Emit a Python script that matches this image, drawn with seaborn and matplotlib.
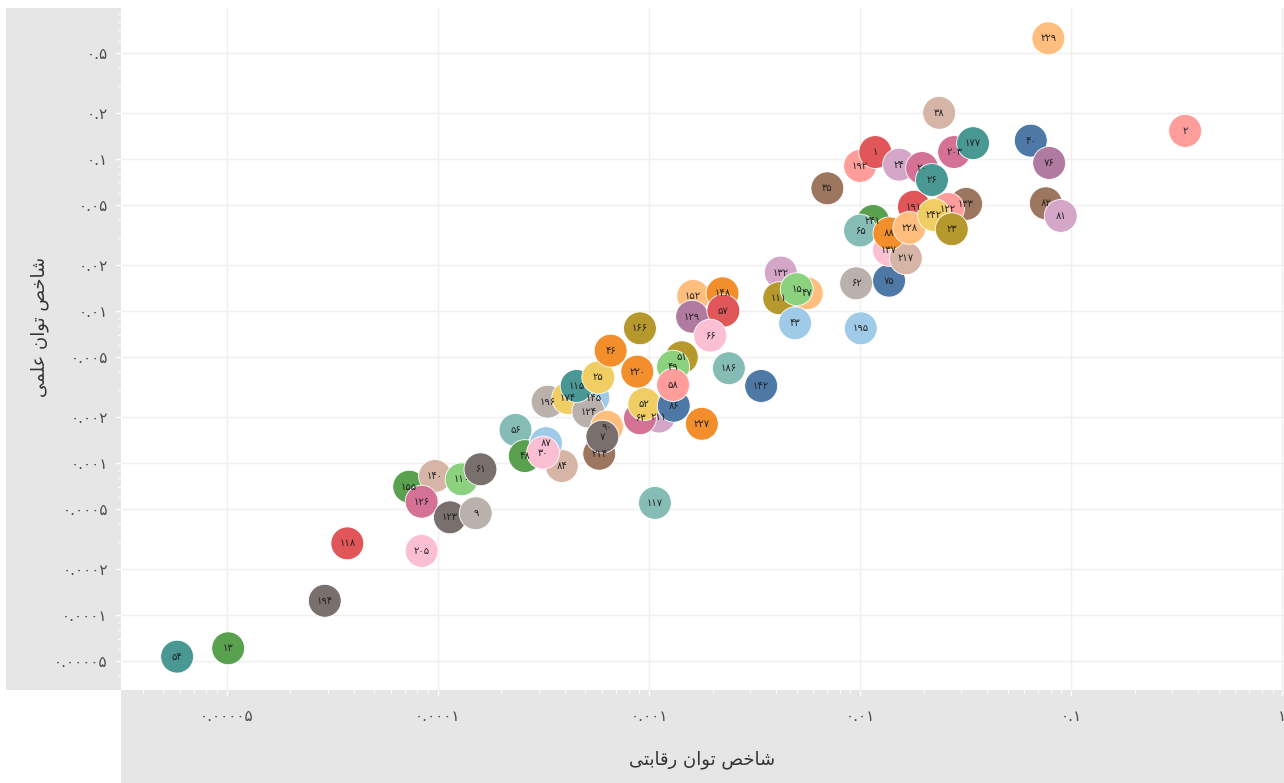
import pandas as pd
import seaborn as sns
import matplotlib.pyplot as plt
from matplotlib.patches import Rectangle
from matplotlib.ticker import FixedLocator, LogLocator, NullFormatter

# point ids (drawing order matters where circles overlap)
ids = [54, 13, 194, 118, 205, 155, 140, 126, 110, 61, 123, 9, 56, 48, 84, 87, 30,
       196, 174, 145, 124, 115, 25, 90, 214, 7, 46, 166, 220, 211, 63, 52, 86, 51, 49, 58,
       227, 117, 152, 129, 148, 57, 66, 186, 142, 132, 111, 47, 15, 43, 62, 75, 195,
       137, 217, 241, 65, 88, 191, 228, 133, 122, 242, 23, 35, 192, 1, 24, 20, 26,
       203, 177, 38, 40, 76, 82, 81, 229, 2]

x_vals = [5.81e-6, 1.014e-5, 2.91e-5, 3.72e-5, 8.37e-5, 7.31e-5, 9.68e-5, 8.37e-5, 1.295e-4,
          1.59e-4, 1.14e-4, 1.51e-4, 2.33e-4, 2.58e-4, 3.86e-4, 3.25e-4, 3.15e-4,
          3.31e-4, 4.14e-4, 5.45e-4, 5.16e-4, 4.54e-4, 5.75e-4, 6.32e-4, 5.81e-4, 6.01e-4,
          6.58e-4, 9.06e-4, 8.80e-4, 1.115e-3, 9.06e-4, 9.50e-4, 1.31e-3, 1.43e-3, 1.30e-3, 1.30e-3,
          1.78e-3, 1.067e-3, 1.62e-3, 1.60e-3, 2.23e-3, 2.25e-3, 1.95e-3, 2.39e-3, 3.40e-3,
          4.21e-3, 4.14e-3, 5.59e-3, 5.01e-3, 4.92e-3, 9.58e-3, 1.372e-2, 1.008e-2,
          1.372e-2, 1.647e-2, 1.153e-2, 1.0e-2, 1.377e-2, 1.80e-2, 1.713e-2, 3.18e-2, 2.61e-2,
          2.24e-2, 2.72e-2, 7.00e-3, 1.0e-2, 1.18e-2, 1.53e-2, 1.967e-2, 2.19e-2,
          2.79e-2, 3.43e-2, 2.37e-2, 6.44e-2, 7.87e-2, 7.59e-2, 8.93e-2, 7.80e-2, 0.347]

y_vals = [5.32e-5, 6.04e-5, 1.24e-4, 2.96e-4, 2.64e-4, 6.98e-4, 8.21e-4, 5.56e-4, 7.81e-4,
          9.09e-4, 4.39e-4, 4.67e-4, 1.65e-3, 1.11e-3, 9.55e-4, 1.35e-3, 1.17e-3,
          2.53e-3, 2.67e-3, 2.69e-3, 2.18e-3, 3.21e-3, 3.66e-3, 1.73e-3, 1.15e-3, 1.49e-3,
          5.48e-3, 7.69e-3, 3.99e-3, 2.02e-3, 1.97e-3, 2.44e-3, 2.38e-3, 4.96e-3, 4.30e-3, 3.26e-3,
          1.81e-3, 5.46e-4, 1.256e-2, 9.17e-3, 1.307e-2, 1.004e-2, 6.88e-3, 4.20e-3, 3.21e-3,
          1.79e-2, 1.213e-2, 1.307e-2, 1.39e-2, 8.30e-3, 1.52e-2, 1.582e-2, 7.69e-3,
          2.52e-2, 2.22e-2, 3.91e-2, 3.38e-2, 3.24e-2, 4.85e-2, 3.52e-2, 5.06e-2, 4.69e-2,
          4.28e-2, 3.45e-2, 6.41e-2, 9.0e-2, 0.111, 9.17e-2, 8.72e-2, 7.27e-2,
          0.111, 0.127, 0.201, 0.132, 9.41e-2, 5.11e-2, 4.22e-2, 0.622, 0.153]

group_colors = {
    "#4E79A7": [40, 75, 142, 86],
    "#A0CBE8": [43, 195, 145, 87],
    "#F28E2B": [46, 220, 88, 148, 227],
    "#FFBE7D": [229, 228, 47, 152, 90],
    "#59A14F": [13, 48, 155, 241],
    "#8CD17D": [15, 49, 110],
    "#B6992D": [166, 51, 111, 23],
    "#F1CE63": [25, 52, 242, 174],
    "#499894": [54, 115, 177, 26],
    "#86BCB6": [56, 65, 117, 186],
    "#E15759": [1, 118, 57, 191],
    "#FF9D9A": [2, 192, 58, 122],
    "#79706E": [194, 123, 61, 7],
    "#BAB0AC": [9, 196, 124, 62],
    "#D37295": [126, 63, 203, 20],
    "#FABFD2": [205, 30, 66, 137],
    "#B07AA1": [76, 129],
    "#D4A6C8": [81, 24, 132, 211],
    "#9D7660": [35, 82, 214, 133],
    "#D7B5A6": [38, 84, 140, 217],
}

x_ticks = [1e-5, 1e-4, 1e-3, 1e-2, 1e-1, 1]
x_tick_labels = ["0.00005", "0.0001", "0.001", "0.01", "0.1", "1"]
y_ticks = [5e-5, 1e-4, 2e-4, 5e-4, 1e-3, 2e-3, 5e-3, 1e-2, 2e-2, 5e-2, 0.1, 0.2, 0.5]
y_tick_labels = ["0.00005", "0.0001", "0.0002", "0.0005", "0.001", "0.002", "0.005",
                 "0.01", "0.02", "0.05", "0.1", "0.2", "0.5"]

x_title = "شاخص توان رقابتی"
y_title = "شاخص توان علمی"

# Arabic presentation forms (iso, fin, ini, med) - matplotlib does no shaping
FORMS = {
    'ا': (0xFE8D, 0xFE8E), 'و': (0xFEED, 0xFEEE), 'ر': (0xFEAD, 0xFEAE),
    'ش': (0xFEB5, 0xFEB6, 0xFEB7, 0xFEB8), 'خ': (0xFEA5, 0xFEA6, 0xFEA7, 0xFEA8),
    'ص': (0xFEB9, 0xFEBA, 0xFEBB, 0xFEBC), 'ت': (0xFE95, 0xFE96, 0xFE97, 0xFE98),
    'ن': (0xFEE5, 0xFEE6, 0xFEE7, 0xFEE8), 'ق': (0xFED5, 0xFED6, 0xFED7, 0xFED8),
    'ب': (0xFE8F, 0xFE90, 0xFE91, 0xFE92), 'ع': (0xFEC9, 0xFECA, 0xFECB, 0xFECC),
    'ل': (0xFEDD, 0xFEDE, 0xFEDF, 0xFEE0), 'م': (0xFEE1, 0xFEE2, 0xFEE3, 0xFEE4),
    'ی': (0xFEEF, 0xFEF0, 0xFEF3, 0xFEF4),
}


def fa(text):
    out = []
    for i, ch in enumerate(text):
        if ch not in FORMS:
            out.append(ch)
            continue
        forms = FORMS[ch]
        prev = text[i - 1] if i > 0 else ''
        nxt = text[i + 1] if i + 1 < len(text) else ''
        jp = prev in FORMS and len(FORMS[prev]) == 4
        jn = nxt in FORMS and len(forms) == 4
        out.append(chr(forms[(1 if jp else 0) + (2 if jn else 0)]))
    return ''.join(reversed(out))


DIGITS = str.maketrans('0123456789', '۰۱۲۳۴۵۶۷۸۹')


def fa_num(s):
    return str(s).translate(DIGITS)


color_of = {i: c for c, members in group_colors.items() for i in members}
df = pd.DataFrame({"id": ids, "x": x_vals, "y": y_vals})
df["label"] = df["id"].map(fa_num)
palette = {fa_num(i): color_of[i] for i in ids}

sns.set_theme(style="white")
plt.rcParams['font.family'] = ['DejaVu Sans']

W, H = 1284, 783
fig = plt.figure(figsize=(W / 100, H / 100), dpi=100)
band = "#e6e6e6"
# grey bands behind the axis areas (zorder below the axes so tick labels stay visible)
fig.patches.append(Rectangle((6 / W, 93 / H), 115 / W, 682 / H, transform=fig.transFigure,
                             facecolor=band, edgecolor="none", zorder=-5))
fig.patches.append(Rectangle((121 / W, 0), 1163 / W, 93 / H, transform=fig.transFigure,
                             facecolor=band, edgecolor="none", zorder=-5))
ax = fig.add_axes([121 / W, 93 / H, 1163 / W, 682 / H])

sns.scatterplot(data=df, x="x", y="y", hue="label", palette=palette, s=560,
                edgecolor="white", linewidth=0.6, legend=False, ax=ax, zorder=3)
for _, r in df.iterrows():
    ax.text(r["x"], r["y"], r["label"], ha="center", va="center", fontsize=7.2,
            color="#222222", zorder=4)

ax.set_xscale("log")
ax.set_yscale("log")
ax.set_xlim(3.15e-6, 1.02)
ax.set_ylim(3.21e-5, 0.984)

ax.xaxis.set_major_locator(FixedLocator(x_ticks))
ax.set_xticklabels([fa_num(t) for t in x_tick_labels])
ax.xaxis.set_minor_locator(LogLocator(base=10, subs=range(2, 10)))
ax.xaxis.set_minor_formatter(NullFormatter())
ax.yaxis.set_major_locator(FixedLocator(y_ticks))
ax.set_yticklabels([fa_num(t) for t in y_tick_labels])
ax.yaxis.set_minor_locator(LogLocator(base=10, subs=(3, 4, 6, 7, 8, 9)))
ax.yaxis.set_minor_formatter(NullFormatter())

ax.tick_params(which="major", length=4, color="white", width=1, labelsize=11,
               labelcolor="#4d4d4d", bottom=True, left=True)
ax.tick_params(which="minor", length=2.5, color="white", width=0.8, bottom=True, left=True)
ax.tick_params(axis="y", pad=5.5)
ax.tick_params(axis="x", pad=10)
ax.set_xlabel("")
ax.set_ylabel("")
ax.grid(True, which="major", color="#efefef", linewidth=1)
ax.set_axisbelow(True)
for s in ax.spines.values():
    s.set_visible(False)

fig.text(702 / W, 1 - 760 / H, fa(x_title), ha="center", va="center", fontsize=13,
         color="#333333")
fig.text(40 / W, 1 - 327 / H, fa(y_title), ha="center", va="center", fontsize=13,
         color="#333333", rotation=90)

fig.savefig("out.png", dpi=100)
